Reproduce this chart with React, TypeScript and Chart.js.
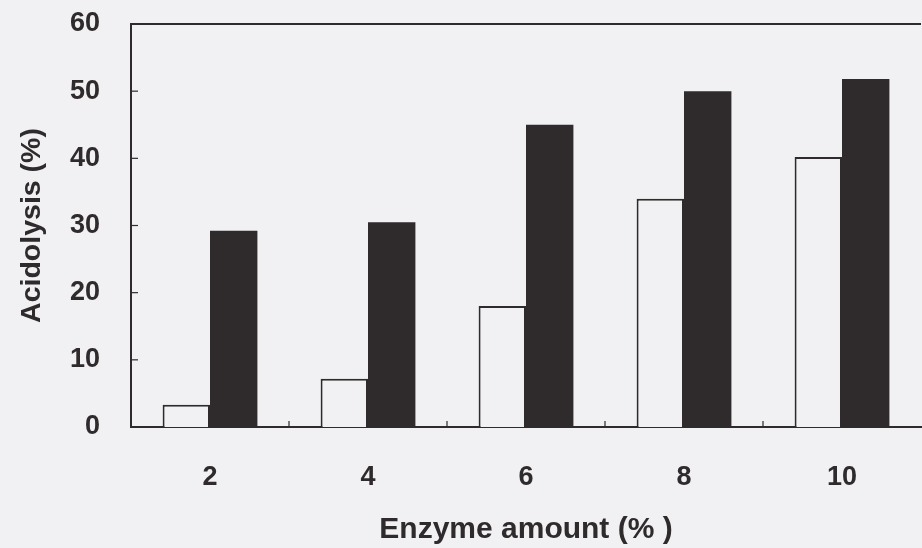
import React, { useEffect, useRef } from "react";
import { Chart, registerables } from "chart.js";

Chart.register(...registerables);

const categories = ["2", "4", "6", "8", "10"];
const seriesOpen = [3.3, 7.2, 18.0, 34.0, 40.2];
const seriesFilled = [29.2, 30.5, 45.0, 50.0, 51.8];
const yTicks = [0, 10, 20, 30, 40, 50, 60];

const INK = "#2f2b2c";
const BG = "#f1f0f2";
const FONT = "'Liberation Sans', Arial, sans-serif";

const framePlugin = {
  id: "frame",
  afterDraw(chart: any) {
    const { ctx, chartArea } = chart;
    const xs = chart.scales.x;
    const ys = chart.scales.y;
    ctx.save();
    ctx.strokeStyle = INK;
    ctx.lineWidth = 2;
    ctx.beginPath();
    ctx.moveTo(chartArea.left, chartArea.top);
    ctx.lineTo(chartArea.right, chartArea.top);
    ctx.stroke();
    ctx.lineWidth = 1.2;
    for (const v of yTicks) {
      if (v === 0 || v === 60) continue;
      const y = ys.getPixelForValue(v);
      ctx.beginPath();
      ctx.moveTo(chartArea.left, y);
      ctx.lineTo(chartArea.left + 7, y);
      ctx.stroke();
    }
    for (let i = 1; i < categories.length; i++) {
      const x = (xs.getPixelForTick(i - 1) + xs.getPixelForTick(i)) / 2;
      ctx.beginPath();
      ctx.moveTo(x, chartArea.bottom);
      ctx.lineTo(x, chartArea.bottom - 6);
      ctx.stroke();
    }
    ctx.restore();
  },
};

export default function App() {
  const ref = useRef<HTMLCanvasElement>(null);
  useEffect(() => {
    document.body.style.margin = "0";
    const chart = new Chart(ref.current!, {
      type: "bar",
      data: {
        labels: categories,
        datasets: [
          {
            data: seriesOpen,
            backgroundColor: BG,
            borderColor: INK,
            borderWidth: 2,
          },
          {
            data: seriesFilled,
            backgroundColor: INK,
            borderColor: INK,
            borderWidth: 0,
          },
        ],
      },
      options: {
        animation: false,
        responsive: false,
        maintainAspectRatio: false,
        layout: { padding: { left: 15, top: 24, right: 1, bottom: 0 } },
        plugins: { legend: { display: false }, tooltip: { enabled: false } },
        datasets: { bar: { categoryPercentage: 0.6, barPercentage: 1.0 } },
        scales: {
          x: {
            grid: { display: false, drawTicks: false },
            border: { display: true, color: INK, width: 2 },
            ticks: {
              color: INK,
              padding: 34,
              font: { family: FONT, size: 27, weight: "bold" },
            },
            title: {
              display: true,
              text: "Enzyme amount (% )",
              color: INK,
              padding: { top: 0, bottom: 0 },
              font: { family: FONT, size: 30, weight: "bold" },
            },
            afterFit: (s: any) => {
              s.height = 121;
            },
          },
          y: {
            min: 0,
            max: 60,
            grid: { display: false, drawTicks: false },
            border: { display: true, color: INK, width: 2 },
            ticks: {
              stepSize: 10,
              color: INK,
              padding: 31,
              font: { family: FONT, size: 27, weight: "bold" },
            },
            title: {
              display: true,
              text: "Acidolysis (%)",
              color: INK,
              padding: { top: 0, bottom: 0 },
              font: { family: FONT, size: 28.5, weight: "bold" },
            },
            afterFit: (s: any) => {
              s.width = 116;
              s.paddingTop = 0;
              s.paddingBottom = 0;
            },
          },
        },
      },
      plugins: [framePlugin],
    } as any);
    return () => chart.destroy();
  }, []);
  return (
    <div style={{ width: 922, height: 548, background: BG }}>
      <canvas ref={ref} width={922} height={548} style={{ display: "block" }} />
    </div>
  );
}
